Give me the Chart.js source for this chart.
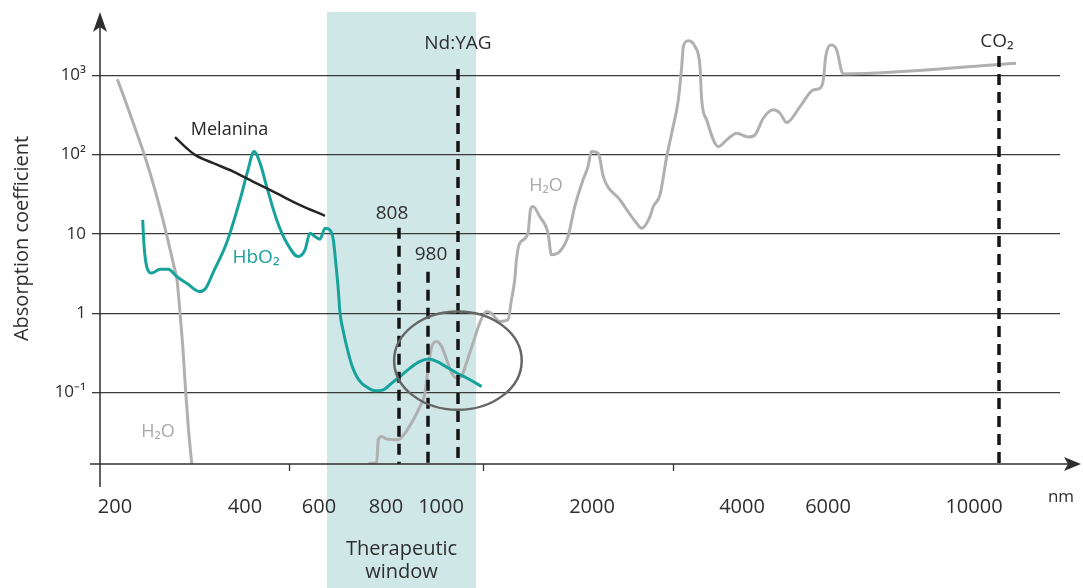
<!DOCTYPE html>
<html><head><meta charset="utf-8">
<script src="https://cdn.jsdelivr.net/npm/chart.js@4.4.1/dist/chart.umd.min.js"></script>
<style>html,body{margin:0;padding:0;background:#fff;overflow:hidden}canvas{display:block}</style>
</head><body>
<canvas id="c" width="1083" height="588" style="width:1083px;height:588px"></canvas>
<script>
// ---------------- data ----------------
const xTickValues = [200, 400, 600, 800, 1000, 2000, 4000, 6000, 10000];
const xTickLabels = ['200', '400', '600', '800', '1000', '2000', '4000', '6000', '10000'];
const xMinorTicks = [520, 1240, 3080];
const yTickValues = [0.1, 1, 10, 100, 1000];
const yTickLabels = ['10⁻¹', '1', '10', '10²', '10³'];

// water, UV side (nm / absorption coefficient)
const h2oUvNm  = [203.5, 215.4, 228.2, 243.5, 261.5, 278, 290.8, 295.4, 300, 304.6, 308.8, 313.1, 318];
const h2oUvAbs = [891, 489, 248, 109, 35.9, 10.9, 3.87, 2.63, 1.01, 0.345, 0.100, 0.0339, 0.0127];

// water, visible / IR side
const h2oNm  = [747.2, 772.3, 777.0, 787.2, 800.4, 807.6, 843.6, 892.8, 932.6, 962.2, 980.5, 985.7, 993.4, 1002.6, 1021.5, 1040.3, 1059.1, 1087.7, 1122.6, 1168.9, 1215.6, 1262.4, 1297.3, 1355.3, 1413.3, 1437.1, 1460.1, 1472.0, 1495.1, 1553.1, 1569.9, 1588.1, 1634.8, 1692.8, 1716.5, 1774.5, 1832.5, 1879.3, 1937.2, 1972.2, 1995.9, 2084, 2150.7, 2373.3, 2596, 2662.7, 2773.3, 2817.3, 2906.7, 2996, 3062.7, 3150.7, 3196, 3217.3, 3284, 3373.3, 3440, 3462.7, 3529.3, 3684, 3796, 3929.3, 4146.5, 4302.3, 4495.4, 4728, 4883.7, 5039.5, 5349.2, 5658.6, 5814, 5890.7, 5946.5, 6074, 6238.4, 6375.3, 6411, 11008];
const h2oAbs = [0.0127, 0.0131, 0.0254, 0.0279, 0.0259, 0.0254, 0.0308, 0.0453, 0.0667, 0.0984, 0.213, 0.380, 0.440, 0.380, 0.258, 0.176, 0.152, 0.159, 0.235, 0.420, 0.750, 1.05, 1.00, 0.785, 0.825, 1.47, 2.63, 4.70, 7.64, 10.2, 20.1, 22.1, 16.5, 10.2, 5.44, 5.98, 9.25, 22.1, 48.0, 70.5, 109, 104, 52.7, 26.8, 13.6, 11.8, 16.5, 22.1, 31.0, 94.2, 186, 489, 1283, 2294, 2730, 2294, 1283, 489, 273, 126, 153, 186, 166, 177, 287, 366, 332, 253, 402, 653, 686, 873, 1716, 2410, 2084, 1110, 1039, 1416];

// oxy-haemoglobin
const hbo2Nm  = [242.6, 244.6, 248.8, 256.5, 269.2, 282.0, 294.9, 310.3, 330.8, 340.0, 350.8, 371.8, 392.3, 408.1, 424.3, 440.5, 458.6, 485.7, 512.7, 544.0, 562.2, 575.7, 589.2, 603.0, 617.9, 632.8, 642.7, 650.7, 657.6, 662.7, 671.6, 682.7, 698.5, 712.5, 727.4, 742.4, 767.2, 791.9, 803.5, 813.9, 873.2, 932.6, 980.5, 993.4, 1021.5, 1059.1, 1124.8, 1229.5];
const hbo2Abs = [15.0, 7.27, 3.87, 3.20, 3.59, 3.59, 2.90, 2.39, 1.87, 2.09, 3.23, 7.71, 26.8, 64.1, 109, 78.5, 39.4, 15.0, 7.71, 5.18, 6.29, 10.2, 9.25, 8.57, 11.8, 11.2, 8.41, 4.06, 1.97, 1.01, 0.617, 0.380, 0.217, 0.159, 0.131, 0.117, 0.105, 0.108, 0.131, 0.159, 0.203, 0.246, 0.264, 0.246, 0.209, 0.176, 0.152, 0.119];

// melanin
const melaninNm  = [292.3, 310.3, 323.1, 351.2, 382.0, 421.5, 484.7, 547.7, 617.9];
const melaninAbs = [166, 120, 99.1, 77.8, 61.0, 45.6, 32.6, 23.2, 16.9];

// laser lines
const laserNm     = [808, 980, 1064, 10600];
const laserLabels = ['808', '980', 'Nd:YAG', 'CO₂'];
const laserTop    = [11.9, 3.32, 1200, 1750];
const laserLabelAt = [17.9, 5.52, 2480, 2630];

// therapeutic window (nm)
const windowNm = [624, 1190];
const windowLabel = ['Therapeutic', 'window'];

// highlighted region (ellipse), nm and absorption extents
const ellipseNm = [805, 1509];
const ellipseAbs = [0.0605, 1.05];

// ---------------- axis definition ----------------
const yMin = 0.01253, yMax = 6095;
// the original wavelength axis is hand-spaced: [nm, relative position 0..960]
const X_AXIS_WARP = [[176.9,0],[200,15],[400,145],[600,219],[800,286],[808,299],[980,328],[1000,341],[1064,358],[2000,492],[4000,642],[6000,728],[10000,874],[12064,960]];

function warpFrac(v) {
  const a = X_AXIS_WARP, W = a[a.length-1][1];
  if (v <= a[0][0]) return (a[0][1] + (v - a[0][0]) * (a[1][1]-a[0][1]) / (a[1][0]-a[0][0])) / W;
  for (let i = 1; i < a.length; i++) {
    if (v <= a[i][0]) {
      const t = (v - a[i-1][0]) / (a[i][0] - a[i-1][0]);
      return (a[i-1][1] + t * (a[i][1] - a[i-1][1])) / W;
    }
  }
  const n = a.length;
  return (a[n-1][1] + (v - a[n-1][0]) * (a[n-1][1]-a[n-2][1]) / (a[n-1][0]-a[n-2][0])) / W;
}
function unwarp(f) {
  const a = X_AXIS_WARP, W = a[a.length-1][1], u = f * W;
  for (let i = 1; i < a.length; i++) {
    if (u <= a[i][1] || i === a.length-1) {
      const t = (u - a[i-1][1]) / (a[i][1] - a[i-1][1]);
      return a[i-1][0] + t * (a[i][0] - a[i-1][0]);
    }
  }
}
class WarpScale extends Chart.LinearScale {
  getPixelForValue(v) { return this.getPixelForDecimal(warpFrac(v)); }
  getValueForPixel(p) { return unwarp(this.getDecimalForPixel(p)); }
}
WarpScale.id = 'warp';
WarpScale.defaults = Chart.LinearScale.defaults;
Chart.register(WarpScale);

const FONT = 'Open Sans';
const TEXT = '#2e2e2e';
const curveLabels = [
  {text: 'Melanina', nm: 376.2, v: 207, color: '#262626', size: 18},
  {text: 'HbO₂', nm: 429.7, v: 4.99, color: '#17a39c', size: 19},
  {text: 'H₂O', nm: 1678.7, v: 40.3, color: '#a9a9a9', size: 18},
  {text: 'H₂O', nm: 266.2, v: 0.032, color: '#a9a9a9', size: 18}
];
const laserDx = [-7, 3, 0, -2];

const deco = {
  id: 'deco',
  beforeDraw(chart) {
    const {ctx, chartArea: a, scales: {x}} = chart;
    const x1 = x.getPixelForValue(windowNm[0]), x2 = x.getPixelForValue(windowNm[1]);
    ctx.save();
    ctx.fillStyle = '#d0e7e8';
    ctx.fillRect(x1, a.top - 1, x2 - x1, chart.height);
    ctx.restore();
  },
  afterDatasetsDraw(chart) {
    const {ctx, scales: {x, y}} = chart;
    const l = x.getPixelForValue(ellipseNm[0]), r = x.getPixelForValue(ellipseNm[1]);
    const b = y.getPixelForValue(ellipseAbs[0]), t = y.getPixelForValue(ellipseAbs[1]);
    ctx.save();
    ctx.strokeStyle = '#666';
    ctx.lineWidth = 2.5;
    ctx.beginPath();
    ctx.ellipse((l+r)/2, (t+b)/2, (r-l)/2, (b-t)/2, 0, 0, Math.PI*2);
    ctx.stroke();
    ctx.restore();
  },
  afterDraw(chart) {
    const {ctx, chartArea: a, scales: {x, y}} = chart;
    ctx.save();
    ctx.strokeStyle = '#2f2f2f'; ctx.fillStyle = '#2f2f2f'; ctx.lineWidth = 1.5;
    // y axis + arrow
    ctx.beginPath(); ctx.moveTo(a.left, a.top + 8); ctx.lineTo(a.left, a.bottom + 23); ctx.stroke();
    ctx.beginPath();
    ctx.moveTo(a.left, a.top - 1); ctx.lineTo(a.left - 7, a.top + 19); ctx.lineTo(a.left, a.top + 14); ctx.lineTo(a.left + 7, a.top + 19);
    ctx.closePath(); ctx.fill();
    // x axis + arrow
    const xe = chart.width - 2;
    ctx.beginPath(); ctx.moveTo(a.left - 10, a.bottom); ctx.lineTo(xe - 8, a.bottom); ctx.stroke();
    ctx.beginPath();
    ctx.moveTo(xe, a.bottom); ctx.lineTo(xe - 17, a.bottom - 7); ctx.lineTo(xe - 13, a.bottom); ctx.lineTo(xe - 17, a.bottom + 7);
    ctx.closePath(); ctx.fill();

    ctx.textAlign = 'center'; ctx.textBaseline = 'middle';
    // laser labels
    ctx.fillStyle = TEXT;
    ctx.font = '19px "' + FONT + '"';
    laserNm.forEach((nm, i) => {
      ctx.fillText(laserLabels[i], x.getPixelForValue(nm) + laserDx[i], y.getPixelForValue(laserLabelAt[i]));
    });
    // curve labels
    curveLabels.forEach(c => {
      ctx.fillStyle = c.color;
      ctx.font = c.size + 'px "' + FONT + '"';
      ctx.fillText(c.text, x.getPixelForValue(c.nm), y.getPixelForValue(c.v));
    });
    // therapeutic window label
    const cx = (x.getPixelForValue(windowNm[0]) + x.getPixelForValue(windowNm[1])) / 2;
    ctx.fillStyle = TEXT;
    ctx.font = '20px "' + FONT + '"';
    ctx.fillText(windowLabel[0], cx, 549);
    ctx.fillText(windowLabel[1], cx, 572);
    // unit
    ctx.font = '17px "' + FONT + '"';
    ctx.fillText('nm', 1061, 497);
    ctx.restore();
  }
};

const pts = (xs, ys) => xs.map((v, i) => ({x: v, y: ys[i]}));
const curve = (data, color, width) => ({data, borderColor: color, borderWidth: width, showLine: true, pointRadius: 0, cubicInterpolationMode: 'monotone', fill: false});

const datasets = [];
laserNm.forEach((nm, i) => {
  datasets.push({data: [{x: nm, y: laserTop[i]}, {x: nm, y: yMin}], borderColor: '#151515', borderWidth: 3.5, borderDash: [11, 7], showLine: true, pointRadius: 0, tension: 0});
});
datasets.push(curve(pts(melaninNm, melaninAbs), '#262626', 2.5));
datasets.push(curve(pts(hbo2Nm, hbo2Abs), '#17a39c', 3));
datasets.push(curve(pts(h2oNm, h2oAbs), '#b0b0b0', 3));
datasets.push(curve(pts(h2oUvNm, h2oUvAbs), '#b0b0b0', 3));

new Chart(document.getElementById('c'), {
  type: 'scatter',
  data: {datasets},
  plugins: [deco],
  options: {
    responsive: false, animation: false, devicePixelRatio: 1,
    layout: {padding: {top: 13, right: 23, left: 0, bottom: 0}},
    plugins: {legend: {display: false}, tooltip: {enabled: false}},
    scales: {
      x: {
        type: 'warp', min: 176.9, max: 12064, bounds: 'data',
        afterBuildTicks: s => { s.ticks = xTickValues.concat(xMinorTicks).map(v => ({value: v})); },
        afterFit: s => { s.height = 124; s.paddingLeft = 0; s.paddingRight = 0; },
        ticks: {autoSkip: false, maxRotation: 0, minRotation: 0, padding: 24, color: TEXT,
          font: {family: FONT, size: 20},
          callback: v => { const i = xTickValues.indexOf(v); return i >= 0 ? xTickLabels[i] : ''; }},
        grid: {drawOnChartArea: false, drawTicks: true, tickLength: 7, tickWidth: 1.3,
          tickColor: c => (c.tick && xMinorTicks.includes(c.tick.value)) ? '#333' : 'rgba(0,0,0,0)'},
        border: {display: false}
      },
      y: {
        type: 'logarithmic', min: yMin, max: yMax,
        afterBuildTicks: s => { s.ticks = yTickValues.map(v => ({value: v})); },
        afterFit: s => { s.width = 100; s.paddingTop = 0; s.paddingBottom = 0; },
        ticks: {padding: 6, color: TEXT, font: {family: FONT, size: 17},
          callback: v => { const i = yTickValues.indexOf(v); return i >= 0 ? yTickLabels[i] : ''; }},
        grid: {color: '#3a3a3a', lineWidth: 1.3, drawTicks: true, tickLength: 8},
        border: {display: false},
        title: {display: true, text: 'Absorption coefficient', color: TEXT, font: {family: FONT, size: 20}, padding: {top: 10, bottom: 0}}
      }
    }
  }
});
</script>
</body></html>
